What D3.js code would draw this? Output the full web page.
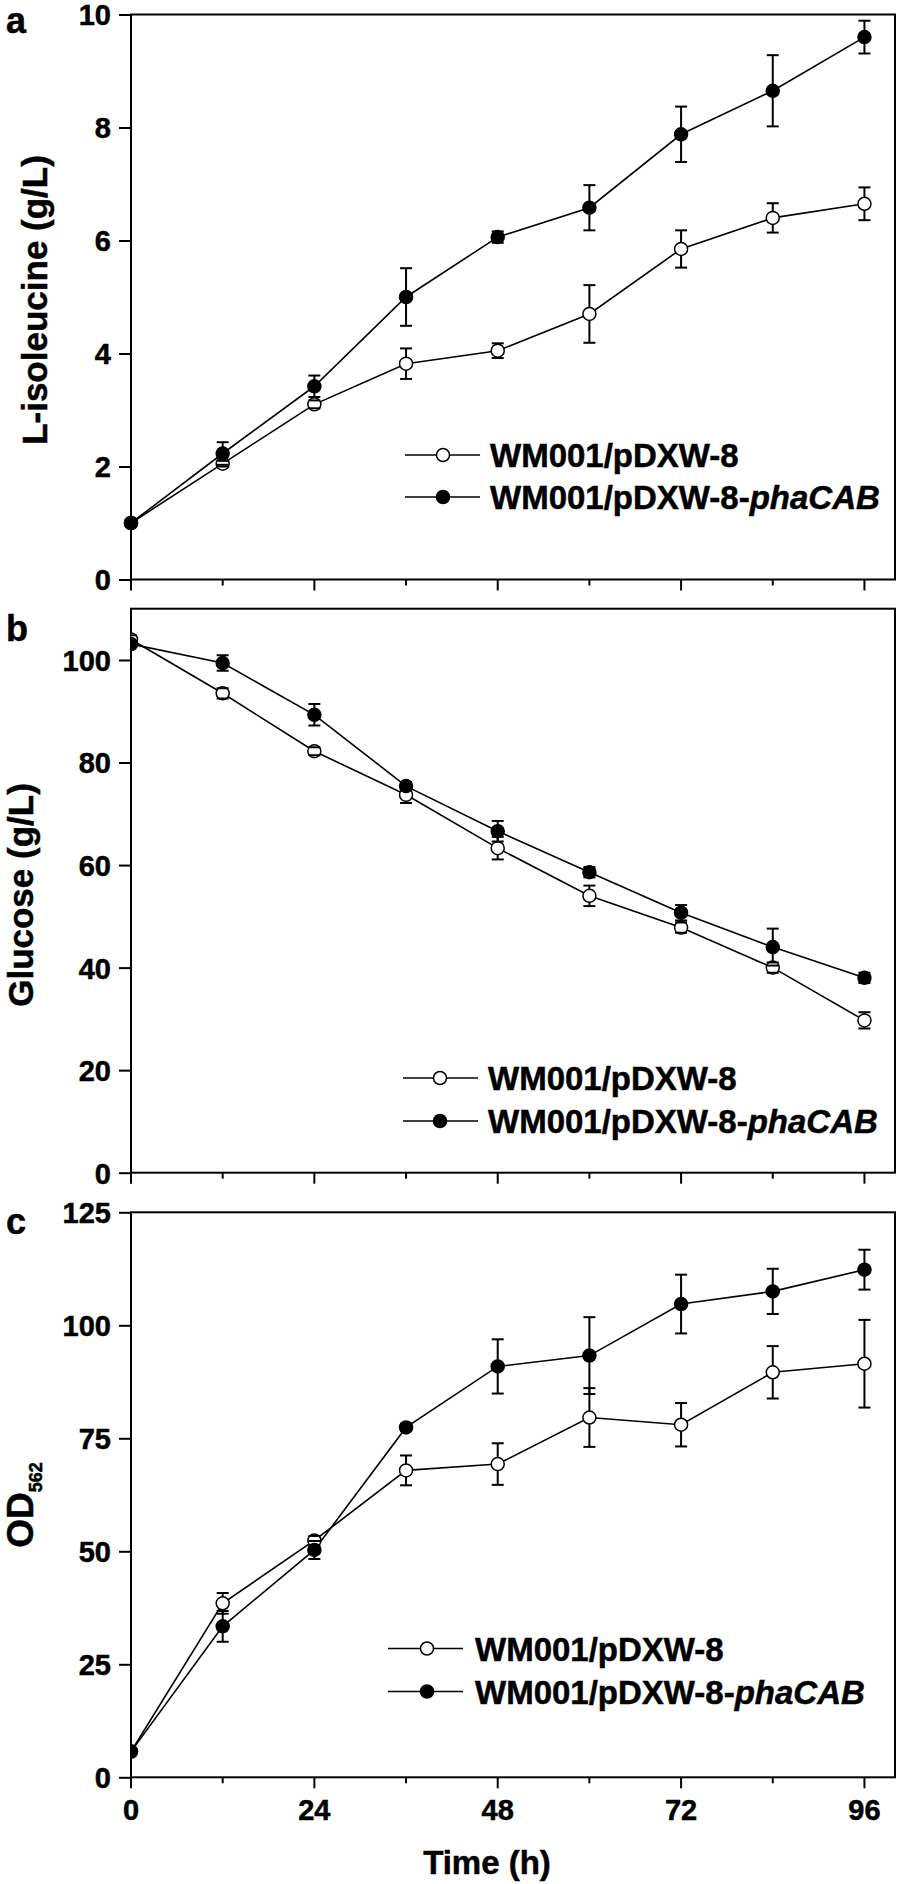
<!DOCTYPE html>
<html>
<head>
<meta charset="utf-8">
<script src="https://cdn.jsdelivr.net/npm/d3@7"></script>
<style>
  html, body { margin: 0; padding: 0; background: #fff; }
  svg { display: block; }
  text { font-family: "Liberation Sans", Arial, sans-serif; font-weight: bold; fill: #000; stroke: #000; stroke-width: 0.5px; }
</style>
</head>
<body>
<svg id="chart" width="898" height="1884"></svg>
<script>
// ---------------- DATA ----------------
const times = [0, 12, 24, 36, 48, 60, 72, 84, 96];
const seriesNames = ["WM001/pDXW-8", "WM001/pDXW-8-"];
const seriesItalic = ["", "phaCAB"];
const xTickLabels = [0, 24, 48, 72, 96];

// a: L-isoleucine (g/L)
const ileOpen = [1.0, 2.05, 3.1, 3.82, 4.05, 4.7, 5.85, 6.4, 6.65];
const ileOpenErr = [0.03, 0.05, 0.07, 0.27, 0.13, 0.51, 0.33, 0.26, 0.29];
const ileFilled = [1.0, 2.23, 3.42, 5.0, 6.06, 6.58, 7.88, 8.65, 9.6];
const ileFilledErr = [0.03, 0.2, 0.19, 0.51, 0.1, 0.4, 0.49, 0.63, 0.29];
const ileTicks = [0, 2, 4, 6, 8, 10];

// b: Glucose (g/L)
const gluOpen = [104.0, 93.5, 82.2, 73.7, 63.3, 54.0, 47.8, 40.0, 29.7];
const gluOpenErr = [0.8, 1.0, 0.8, 1.6, 2.2, 2.0, 1.0, 1.0, 1.6];
const gluFilled = [103.1, 99.4, 89.3, 75.4, 66.6, 58.6, 50.7, 44.0, 38.0];
const gluFilledErr = [0.5, 1.5, 2.1, 0.8, 2.0, 1.0, 1.5, 3.6, 1.0];
const gluTicks = [0, 20, 40, 60, 80, 100];

// c: OD562
const odOpen = [5.7, 38.5, 52.4, 67.9, 69.3, 79.6, 78.0, 89.6, 91.5];
const odOpenErr = [0.3, 2.3, 1.0, 3.3, 4.6, 6.5, 4.8, 5.8, 9.7];
const odFilled = [5.7, 33.4, 50.3, 77.4, 90.9, 93.3, 104.7, 107.5, 112.3];
const odFilledErr = [0.3, 3.4, 2.0, 0.8, 6.0, 8.5, 6.5, 5.0, 4.4];
const odTicks = [0, 25, 50, 75, 100, 125];

// ---------------- LAYOUT ----------------
const svg = d3.select("#chart");
const X0 = 131, X1 = 895;
const x = d3.scaleLinear().domain([0, 100]).range([X0, X1]);

const panels = [
  { letter: "a", letterY: 33, top: 14.5, bottom: 579.5, ymax: 10, ticks: ileTicks,
    open: ileOpen, openErr: ileOpenErr, filled: ileFilled, filledErr: ileFilledErr,
    title: "L-isoleucine (g/L)", titleX: 47, titleY: 300, titleSize: 35, clip: false, xLabels: false,
    leg: { x1: 405, x2: 480, mx: 443, tx: 490, rows: [455, 497] } },
  { letter: "b", letterY: 641, top: 608.7, bottom: 1172.7, ymax: 110, ticks: gluTicks,
    open: gluOpen, openErr: gluOpenErr, filled: gluFilled, filledErr: gluFilledErr,
    title: "Glucose (g/L)", titleX: 33, titleY: 895, titleSize: 35, clip: true, xLabels: false,
    leg: { x1: 403, x2: 478, mx: 440, tx: 488, rows: [1078, 1121] } },
  { letter: "c", letterY: 1234, top: 1212.3, bottom: 1777.3, ymax: 125, ticks: odTicks,
    open: odOpen, openErr: odOpenErr, filled: odFilled, filledErr: odFilledErr,
    title: "OD", sub: "562", titleX: 33, titleY: 1505, titleSize: 37, clip: true, xLabels: true,
    leg: { x1: 388, x2: 463, mx: 427, tx: 475, rows: [1648.5, 1691.5] } }
];

const R = 6.5, CAP = 6;

panels.forEach((p, pi) => {
  const y = d3.scaleLinear().domain([0, p.ymax]).range([p.bottom, p.top]);
  const g = svg.append("g");

  const clipId = "clip" + pi;
  svg.append("clipPath").attr("id", clipId)
    .append("rect").attr("x", X0).attr("y", p.top).attr("width", X1 - X0).attr("height", p.bottom - p.top);

  // y axis
  const yAxis = d3.axisLeft(y).tickValues(p.ticks).tickSize(12).tickPadding(8).tickFormat(d3.format("d"));
  const ya = g.append("g").attr("transform", `translate(${X0},0)`).call(yAxis);
  ya.select(".domain").remove();
  ya.selectAll("line").attr("stroke", "#000").attr("stroke-width", 2);
  ya.selectAll("text").attr("font-size", 29).attr("font-family", "Liberation Sans, Arial, sans-serif")
    .attr("font-weight", "bold").attr("fill", "#000").attr("x", -20).attr("dy", "0.36em");

  // x axis: major and minor ticks
  const xa = g.append("g").attr("transform", `translate(0,${p.bottom})`);
  xa.selectAll("line.tick").data(times).join("line")
    .attr("x1", d => x(d)).attr("x2", d => x(d))
    .attr("y1", 0).attr("y2", d => (d % 24 === 0 ? 11 : 6))
    .attr("stroke", "#000").attr("stroke-width", 2);
  if (p.xLabels) {
    xa.selectAll("text").data(xTickLabels).join("text")
      .attr("x", d => x(d)).attr("y", 43)
      .attr("text-anchor", "middle").attr("font-size", 29).text(d => d);
  }

  // frame
  g.append("rect").attr("x", X0).attr("y", p.top).attr("width", X1 - X0).attr("height", p.bottom - p.top)
    .attr("fill", "none").attr("stroke", "#000").attr("stroke-width", 2);

  // data
  const dg = g.append("g");
  if (p.clip) dg.attr("clip-path", `url(#${clipId})`);
  const line = d3.line().x((d, i) => x(times[i])).y(d => y(d));
  const series = [
    { vals: p.open, errs: p.openErr, fill: "#fff" },
    { vals: p.filled, errs: p.filledErr, fill: "#000" }
  ];
  series.forEach(s => {
    dg.append("path").datum(s.vals).attr("d", line)
      .attr("fill", "none").attr("stroke", "#000").attr("stroke-width", 1.6);
  });
  series.forEach(s => {
    dg.selectAll(null).data(s.vals).join("line")
      .attr("x1", (d, i) => x(times[i])).attr("x2", (d, i) => x(times[i]))
      .attr("y1", (d, i) => y(d - s.errs[i])).attr("y2", (d, i) => y(d + s.errs[i]))
      .attr("stroke", "#000").attr("stroke-width", 2);
  });
  series.forEach(s => {
    dg.selectAll(null).data(s.vals).join("circle")
      .attr("cx", (d, i) => x(times[i])).attr("cy", d => y(d)).attr("r", R)
      .attr("fill", s.fill).attr("stroke", "#000").attr("stroke-width", 1.5);
  });
  series.forEach(s => {
    [1, -1].forEach(sign => {
      dg.selectAll(null).data(s.vals).join("line")
        .attr("x1", (d, i) => x(times[i]) - CAP).attr("x2", (d, i) => x(times[i]) + CAP)
        .attr("y1", (d, i) => y(d + sign * s.errs[i])).attr("y2", (d, i) => y(d + sign * s.errs[i]))
        .attr("stroke", "#000").attr("stroke-width", 2);
    });
  });

  // legend
  const L = p.leg;
  series.forEach((s, si) => {
    const ry = L.rows[si];
    g.append("line").attr("x1", L.x1).attr("x2", L.x2).attr("y1", ry).attr("y2", ry)
      .attr("stroke", "#000").attr("stroke-width", 1.6);
    g.append("circle").attr("cx", L.mx).attr("cy", ry).attr("r", R)
      .attr("fill", s.fill).attr("stroke", "#000").attr("stroke-width", 1.5);
    const t = g.append("text").attr("x", L.tx).attr("y", ry + 12).attr("font-size", 33);
    t.append("tspan").text(seriesNames[si]);
    if (seriesItalic[si]) t.append("tspan").attr("font-style", "italic").text(seriesItalic[si]);
  });

  // y title
  const tt = g.append("text")
    .attr("transform", `translate(${p.titleX},${p.titleY}) rotate(-90)`)
    .attr("text-anchor", "middle").attr("font-size", p.titleSize);
  tt.append("tspan").text(p.title);
  if (p.sub) tt.append("tspan").attr("font-size", 18).attr("dy", 9).text(p.sub);

  // panel letter
  g.append("text").attr("x", 6).attr("y", p.letterY).attr("font-size", 36).text(p.letter);
});

// x title
svg.append("text").attr("x", 487).attr("y", 1874).attr("text-anchor", "middle")
  .attr("font-size", 33).text("Time (h)");
</script>
</body>
</html>
